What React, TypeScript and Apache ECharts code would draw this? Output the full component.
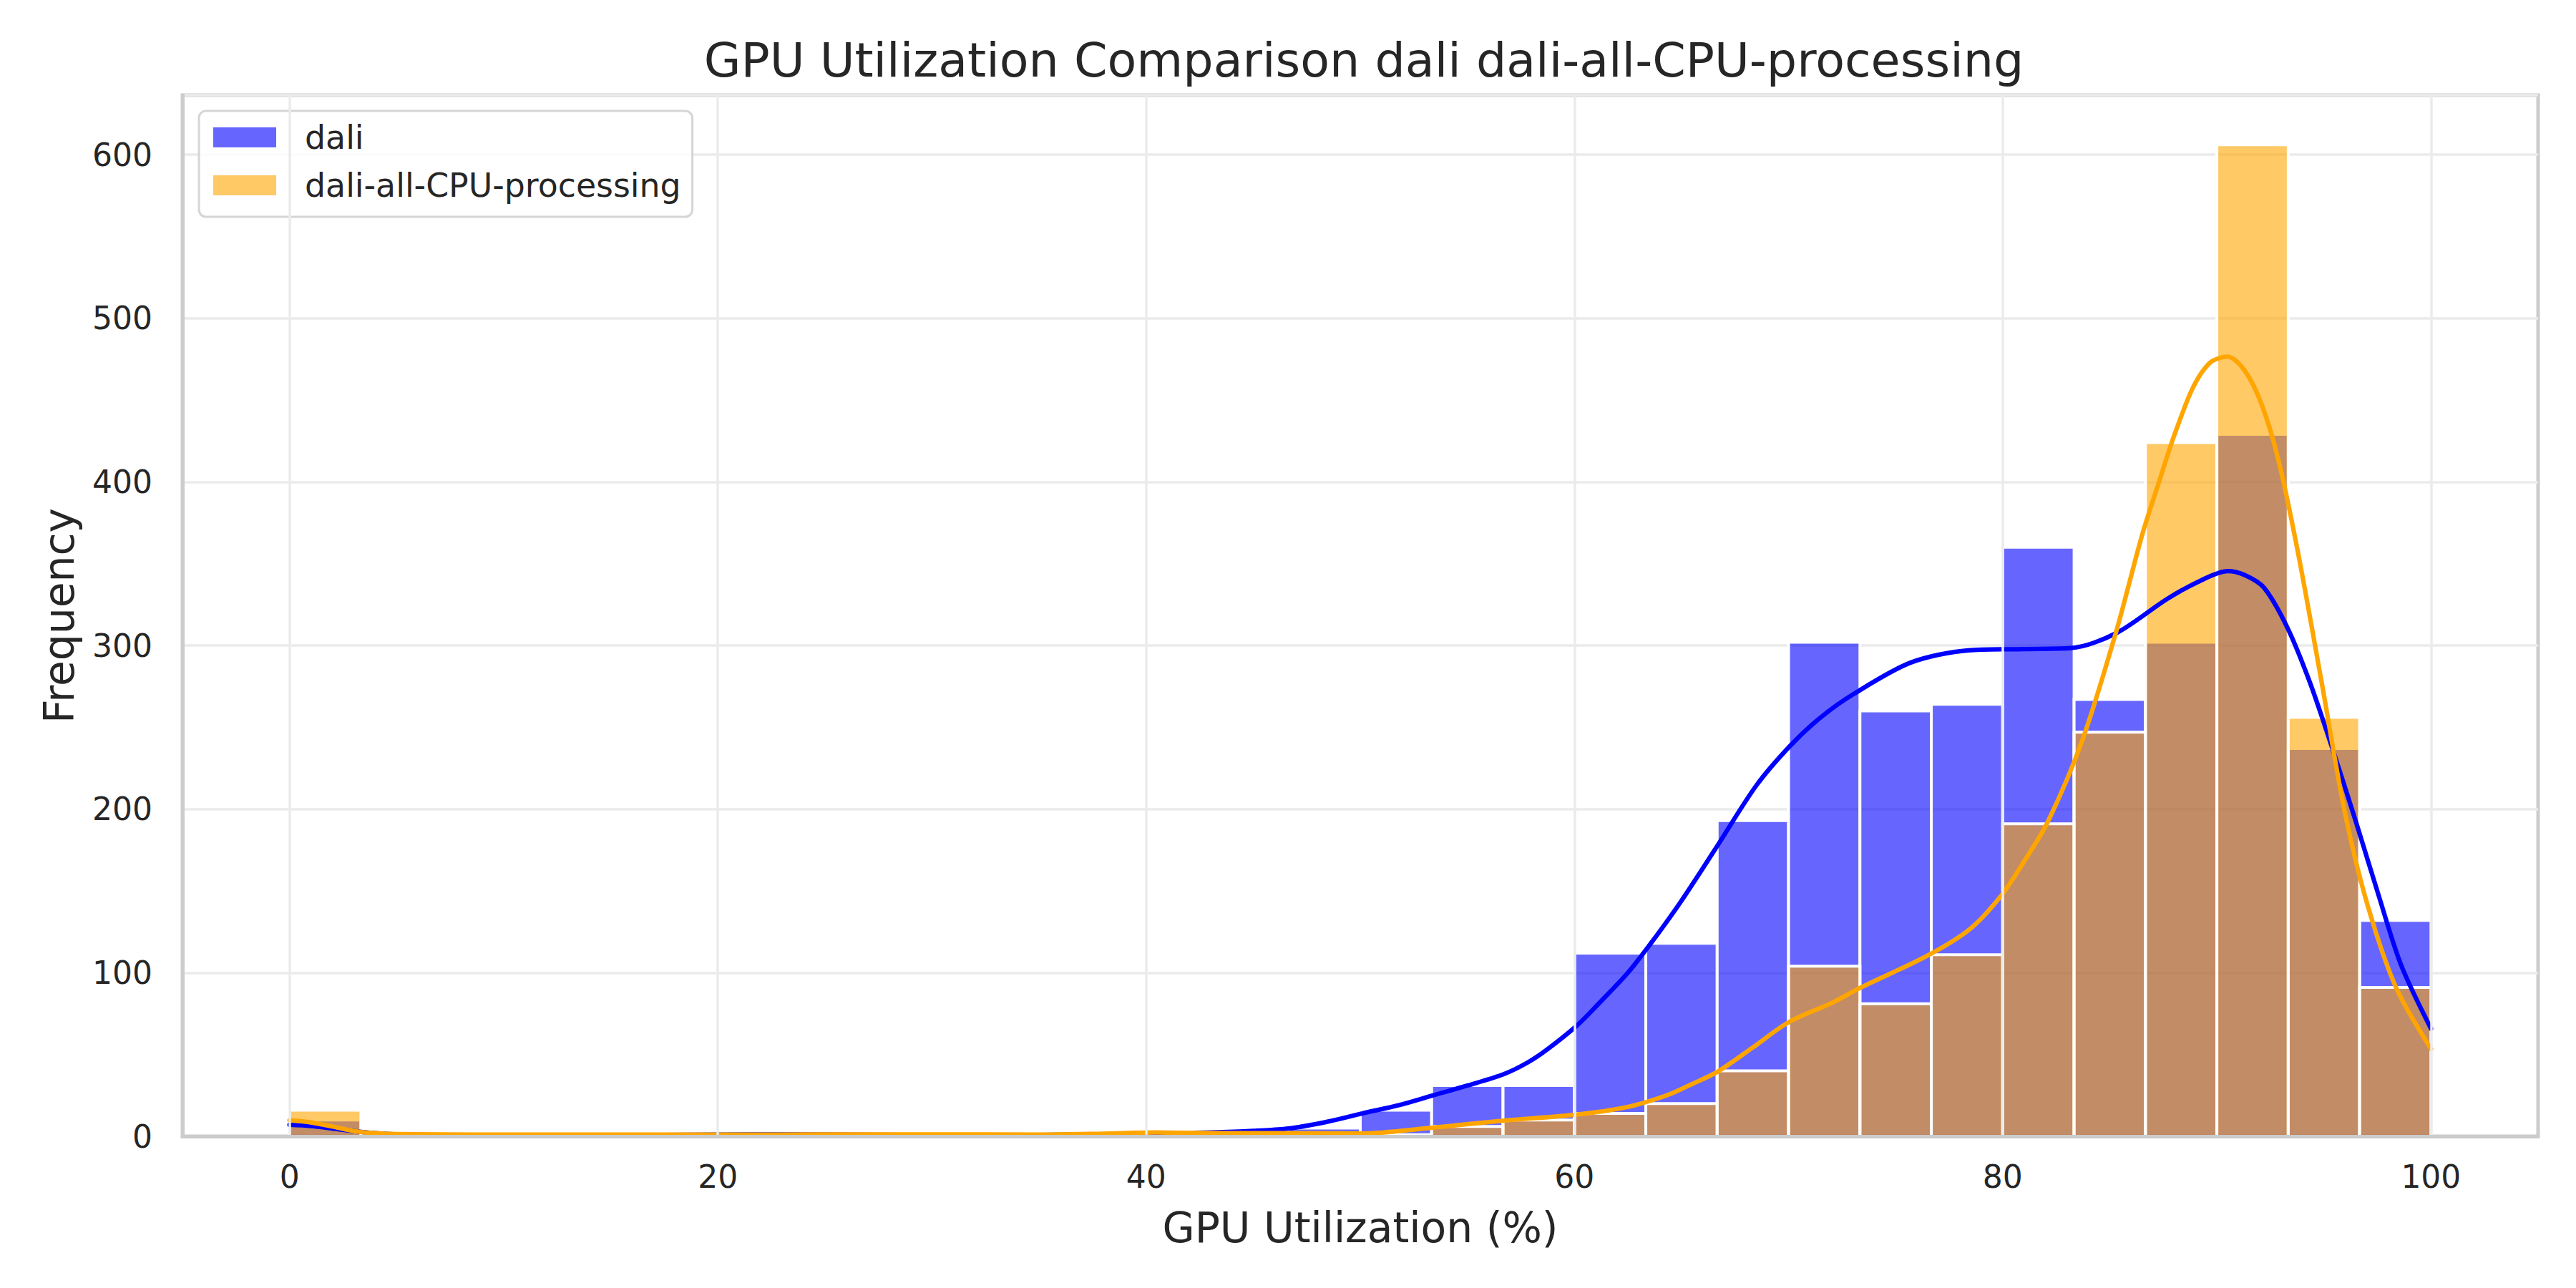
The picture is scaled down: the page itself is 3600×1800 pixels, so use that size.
import React, { useEffect, useRef } from 'react';
import * as echarts from 'echarts';

const TITLE = 'GPU Utilization Comparison dali dali-all-CPU-processing';
const X_LABEL = 'GPU Utilization (%)';
const Y_LABEL = 'Frequency';
const SERIES_NAMES = ['dali', 'dali-all-CPU-processing'];

const BIN_START = 0;
const BIN_END = 100;
const BIN_COUNT = 30;

const DALI_COUNTS = [10, 0, 0, 0, 0, 0, 0, 0, 0, 0, 0, 0, 0, 0, 5, 16, 31, 31, 112, 118, 193, 302, 260, 264, 360, 267, 302, 429, 237, 132];
const CPU_COUNTS = [16, 0, 0, 0, 0, 0, 0, 0, 0, 0, 0, 0, 0, 0, 0, 1, 6, 10, 14, 20, 40, 104, 81, 111, 191, 247, 424, 606, 256, 91];

const DALI_KDE_X = [0, 1, 2, 3, 4, 5, 7, 10, 15, 20, 23, 27, 30, 35, 40, 43, 45, 46.8, 48.5, 50.1, 51.8, 53.4, 55, 56.7, 57.8, 58.7, 60.1, 61.2, 62.5, 63.8, 65, 66.6, 68.5, 70.1, 71.5, 73.05, 75.7, 78.4, 81, 83.2, 85.3, 87.7, 89.3, 90.5, 91.3, 92.2, 93.3, 94.35, 95.4, 96.5, 97.55, 98.6, 100];
const DALI_KDE_Y = [7, 6.3, 4.8, 3.2, 1.9, 1.2, 0.8, 0.6, 0.7, 1.0, 1.2, 0.9, 0.7, 0.8, 1.6, 2.3, 3.3, 5, 9, 14, 19, 25, 31, 38, 45, 52.8, 67.5, 82, 100, 122, 144, 176, 214.5, 239, 256, 270.4, 289.5, 297, 297.8, 298.4, 307.5, 328.6, 340, 345.4, 343, 335.3, 310.7, 277.2, 236.8, 192, 147.4, 104.8, 65.8];

const CPU_KDE_X = [0, 1, 2, 3, 4, 5, 7, 10, 15, 20, 25, 30, 35, 38, 40.4, 43, 46.7, 50, 53.4, 56.7, 60.1, 62.4, 64.3, 65.5, 66.7, 68.3, 70, 72.1, 73.3, 76.5, 78.5, 79.95, 81, 82.1, 83.7, 85.3, 86.5, 87.3, 88, 88.9, 89.7, 90.5, 91.3, 92.1, 92.9, 93.8, 94.9, 95.96, 97, 98.35, 100];
const CPU_KDE_Y = [9.8, 8.5, 6, 3.2, 1.9, 1.4, 1.1, 1.0, 1.0, 1.0, 1.1, 1.2, 1.0, 1.6, 2.3, 2, 1.9, 1.7, 5.3, 9.6, 13.3, 17.7, 25, 32, 39.6, 54, 69.7, 82, 90.4, 110.5, 127, 147.4, 168, 192, 241.4, 308.5, 367, 400, 428, 458, 473, 476.5, 468, 447, 412, 356, 277, 199, 143, 91.4, 53.4];

const X_TICKS = [0, 20, 40, 60, 80, 100];
const X_MIN = -5;
const X_MAX = 105;
const Y_MIN = 0;
const Y_MAX = 636.3;
const Y_STEP = 100;

const FONT = 'DejaVu Sans';
const TEXT_COLOR = '#262626';
const GRID_COLOR = '#EBEBEB';
const SPINE_COLOR = '#CCCCCC';
const BAR_COLORS = ['rgba(0,0,255,0.6)', 'rgba(255,165,0,0.6)'];
const LINE_COLORS = ['#0000FF', '#FFA500'];

function binData(counts: number[]) {
  const w = (BIN_END - BIN_START) / BIN_COUNT;
  const out: number[][] = [];
  counts.forEach((c, i) => {
    if (c > 0) out.push([BIN_START + i * w, BIN_START + (i + 1) * w, c]);
  });
  return out;
}

function barSeries(name: string, counts: number[], color: string) {
  return {
    name,
    type: 'custom',
    z: 2,
    silent: true,
    itemStyle: { color },
    encode: { x: [0, 1], y: 2 },
    data: binData(counts),
    renderItem: (params: any, api: any) => {
      const p0 = api.coord([api.value(0), api.value(2)]);
      const p1 = api.coord([api.value(1), 0]);
      return {
        type: 'rect',
        shape: { x: p0[0], y: p0[1], width: p1[0] - p0[0], height: p1[1] - p0[1] },
        style: { fill: color, stroke: '#FFFFFF', lineWidth: 4 },
      };
    },
  };
}

function kdeSeries(name: string, xs: number[], ys: number[], color: string) {
  return {
    name,
    type: 'line',
    z: 3,
    silent: true,
    smooth: 0.3,
    showSymbol: false,
    symbol: 'none',
    data: xs.map((x, i) => [x, ys[i]]),
    lineStyle: { color, width: 6.25, cap: 'round', join: 'round' },
    itemStyle: { color },
  };
}

export default function App() {
  const ref = useRef<HTMLDivElement>(null);
  useEffect(() => {
    if (!ref.current) return;
    const chart = echarts.init(ref.current, null, { renderer: 'svg' });
    const option: any = {
      animation: false,
      backgroundColor: '#FFFFFF',
      textStyle: { fontFamily: FONT },
      title: {
        text: TITLE,
        left: 1901,
        top: 45,
        textAlign: 'center',
        textStyle: { fontFamily: FONT, fontSize: 66.7, fontWeight: 'normal', color: TEXT_COLOR },
      },
      legend: {
        show: true,
        orient: 'vertical',
        left: 278,
        top: 155,
        selectedMode: false,
        icon: 'rect',
        itemWidth: 88,
        itemHeight: 28,
        itemGap: 21,
        padding: [14, 16, 21, 20],
        backgroundColor: 'rgba(255,255,255,0.8)',
        borderColor: '#D5D5D5',
        borderWidth: 3,
        borderRadius: 10,
        data: SERIES_NAMES.map((n, i) => ({ name: n, itemStyle: { color: BAR_COLORS[i], borderWidth: 0 } })),
        textStyle: { fontFamily: FONT, fontSize: 45.8, color: TEXT_COLOR, padding: [0, 0, 0, 35], lineHeight: 28 },
      },
      grid: {
        left: 255,
        top: 133,
        width: 3292,
        height: 1455,
        show: true,
        borderColor: SPINE_COLOR,
        borderWidth: 5,
        backgroundColor: 'transparent',
      },
      xAxis: [
        {
          type: 'value',
          min: X_MIN,
          max: X_MAX,
          interval: 5,
          name: X_LABEL,
          nameLocation: 'middle',
          nameGap: 99,
          nameTextStyle: { fontFamily: FONT, fontSize: 58.3, color: TEXT_COLOR },
          axisLine: { show: false, onZero: false },
          axisTick: { show: false },
          splitLine: { show: false },
          axisLabel: {
            margin: 34,
            fontFamily: FONT,
            fontSize: 44,
            color: TEXT_COLOR,
            showMinLabel: true,
            showMaxLabel: true,
            formatter: (v: number) => (X_TICKS.indexOf(v) >= 0 ? String(v) : ''),
          },
        },
        {
          type: 'value',
          min: X_MIN,
          max: X_MAX,
          position: 'bottom',
          z: 10,
          axisLine: { show: true, onZero: false, lineStyle: { color: SPINE_COLOR, width: 5 } },
          axisTick: { show: false },
          axisLabel: { show: false },
          splitLine: { show: false },
        },
      ],
      yAxis: [
        {
          type: 'value',
          min: Y_MIN,
          max: Y_MAX,
          interval: Y_STEP,
          name: Y_LABEL,
          nameLocation: 'middle',
          nameGap: 143,
          nameRotate: 90,
          nameTextStyle: { fontFamily: FONT, fontSize: 58.3, color: TEXT_COLOR },
          axisLine: { show: false, onZero: false },
          axisTick: { show: false },
          splitLine: { show: true, lineStyle: { color: GRID_COLOR, width: 3.5 } },
          axisLabel: {
            margin: 42,
            fontFamily: FONT,
            fontSize: 44,
            color: TEXT_COLOR,
            showMaxLabel: false,
            formatter: (v: number) => (v % Y_STEP === 0 ? String(v) : ''),
          },
        },
        {
          type: 'value',
          min: Y_MIN,
          max: Y_MAX,
          position: 'left',
          z: 10,
          axisLine: { show: true, onZero: false, lineStyle: { color: SPINE_COLOR, width: 5 } },
          axisTick: { show: false },
          axisLabel: { show: false },
          splitLine: { show: false },
        },
      ],
      series: [
        {
          name: 'xgrid',
          type: 'line',
          z: 1,
          silent: true,
          data: [],
          markLine: {
            silent: true,
            symbol: ['none', 'none'],
            label: { show: false },
            emphasis: { disabled: true },
            lineStyle: { color: GRID_COLOR, width: 3.5, type: 'solid' },
            data: X_TICKS.map((v) => ({ xAxis: v })),
          },
        },
        barSeries(SERIES_NAMES[0], DALI_COUNTS, BAR_COLORS[0]),
        barSeries(SERIES_NAMES[1], CPU_COUNTS, BAR_COLORS[1]),
        kdeSeries(SERIES_NAMES[0] + ' KDE', DALI_KDE_X, DALI_KDE_Y, LINE_COLORS[0]),
        kdeSeries(SERIES_NAMES[1] + ' KDE', CPU_KDE_X, CPU_KDE_Y, LINE_COLORS[1]),
      ],
    };
    chart.setOption(option);
    return () => chart.dispose();
  }, []);
  return <div ref={ref} style={{ position: 'absolute', left: 0, top: 0, width: 3600, height: 1800 }} />;
}
